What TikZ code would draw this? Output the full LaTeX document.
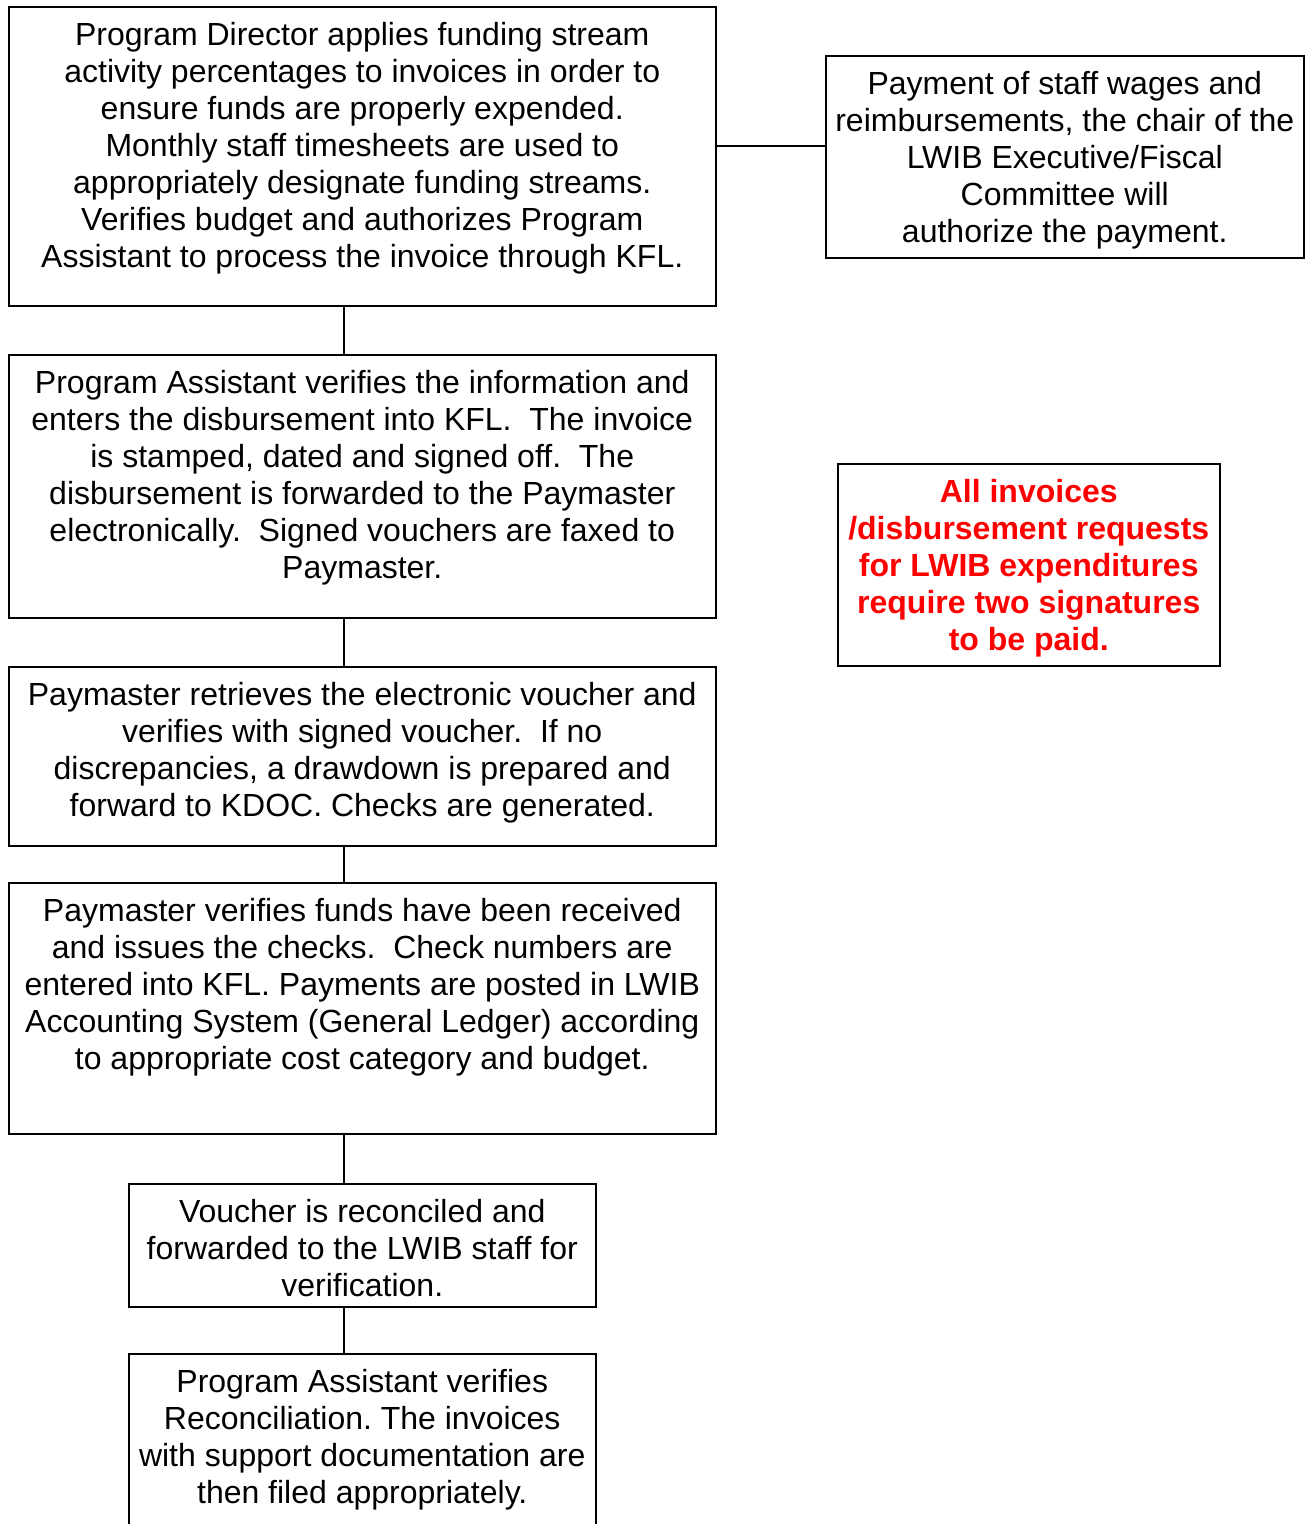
\documentclass[tikz,border=0pt]{standalone}
\usepackage{fontspec}
\setmainfont{Liberation Sans}
\frenchspacing
\newdimen\pxu \pxu=0.75pt
\newcommand\bxt[3]{\parbox[t][#2\pxu][t]{#1\pxu}{\centering\fontsize{24}{27.75}\selectfont\rule{0pt}{29pt}#3\par}}
\definecolor{alertred}{RGB}{255,0,0}
\tikzset{
  box/.style={draw=black, line width=1.5\pxu, inner sep=0pt, anchor=north west},
  link/.style={draw=black, line width=1.5\pxu},
}
\begin{document}
\begin{tikzpicture}[x=0.75pt,y=-0.75pt]
\useasboundingbox (0,0) rectangle (1310,1524);
\node[box] (A) at (8,6) {\bxt{707}{299}{Program Director applies funding stream\\
activity percentages to invoices in order to\\
ensure funds are properly expended.\\
Monthly staff timesheets are used to\\
appropriately designate funding streams.\\
Verifies budget and authorizes Program\\
Assistant to process the invoice through KFL.}};
\node[box] (R) at (825,55) {\bxt{478}{202}{Payment of staff wages and\\
reimbursements, the chair of the\\
LWIB Executive/Fiscal\\
Committee will\\
authorize the payment.}};
\node[box] (B) at (8,354) {\bxt{707}{263}{Program Assistant verifies the information and\\
enters the disbursement into KFL. \ The invoice\\
is stamped, dated and signed off. \ The\\
disbursement is forwarded to the Paymaster\\
electronically. \ Signed vouchers are faxed to\\
Paymaster.}};
\node[box] (N) at (837,463) {\bxt{382}{202}{\bfseries\color{alertred}All invoices\\
/disbursement requests\\
for LWIB expenditures\\
require two signatures\\
to be paid.}};
\node[box] (C) at (8,666) {\bxt{707}{179}{Paymaster retrieves the electronic voucher and\\
verifies with signed voucher. \ If no\\
discrepancies, a drawdown is prepared and\\
forward to KDOC. Checks are generated.}};
\node[box] (D) at (8,882) {\bxt{707}{251}{Paymaster verifies funds have been received\\
and issues the checks. \ Check numbers are\\
entered into KFL. Payments are posted in LWIB\\
Accounting System (General Ledger) according\\
to appropriate cost category and budget.}};
\node[box] (E) at (128,1183) {\bxt{467}{123}{Voucher is reconciled and\\
forwarded to the LWIB staff for\\
verification.}};
\node[box] (F) at (128,1353) {\bxt{467}{190}{Program Assistant verifies\\
Reconciliation. The invoices\\
with support documentation are\\
then filed appropriately.}};
\coordinate (cx) at (344,0);
\coordinate (hy) at (0,146);
\draw[link] (A.south -| cx) -- (B.north -| cx);
\draw[link] (B.south -| cx) -- (C.north -| cx);
\draw[link] (C.south -| cx) -- (D.north -| cx);
\draw[link] (D.south -| cx) -- (E.north -| cx);
\draw[link] (E.south -| cx) -- (F.north -| cx);
\draw[link] (A.east |- hy) -- (R.west |- hy);
\end{tikzpicture}
\end{document}
